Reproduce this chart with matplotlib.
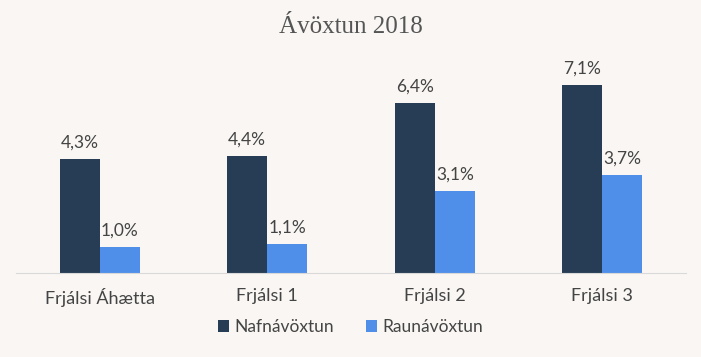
import numpy as np
import matplotlib

matplotlib.use("Agg")
import matplotlib.pyplot as plt

categories = ["Frjálsi Áhætta", "Frjálsi 1", "Frjálsi 2", "Frjálsi 3"]
nafn = [4.3, 4.4, 6.4, 7.1]
raun = [1.0, 1.1, 3.1, 3.7]
series_names = ["Nafnávöxtun", "Raunávöxtun"]

BG = "#f9f6f3"
DARK = "#263d55"
LIGHT = "#4f8fea"
TXT = "#444444"

plt.rcParams["font.family"] = ["Lato", "DejaVu Sans"]

fig = plt.figure(figsize=(7.01, 3.57), dpi=100, facecolor=BG)
ax = fig.add_axes([16 / 701, 84 / 357, 670 / 701, 212 / 357], facecolor=BG)

x = np.arange(len(categories))
w = 0.24
b1 = ax.bar(x - w / 2, nafn, w, color=DARK, label=series_names[0])
b2 = ax.bar(x + w / 2, raun, w, color=LIGHT, label=series_names[1])
for bars, vals in ((b1, nafn), (b2, raun)):
    for r, v in zip(bars, vals):
        ax.annotate(f"{v:.1f}%".replace(".", ","), (r.get_x() + r.get_width() / 2, v),
                    xytext=(0, 6), textcoords="offset points", ha="center", va="bottom",
                    fontsize=12.5, color=TXT)

ax.set_xlim(-0.5, len(categories) - 0.5)
ax.set_ylim(0, 8)
ax.set_xticks(x)
ax.set_xticklabels(categories, fontsize=13, color=TXT)
ax.tick_params(axis="x", length=0, pad=11)
ax.set_yticks([])
for s in ("top", "right", "left"):
    ax.spines[s].set_visible(False)
ax.spines["bottom"].set_color("#d9d9d9")

fig.text(0.5, 1 - 27 / 357, "Ávöxtun 2018", ha="center", va="center",
         fontsize=18, color="#555555", family=["Liberation Serif", "DejaVu Serif"])

fig.legend(loc="center", bbox_to_anchor=(0.5, 1 - 327 / 357), ncol=2, frameon=False,
           handlelength=0.65, handleheight=0.65, handletextpad=0.3, columnspacing=1.8,
           prop={"size": 12.5}, labelcolor=TXT)

fig.savefig("out.png", dpi=100, facecolor=BG)
